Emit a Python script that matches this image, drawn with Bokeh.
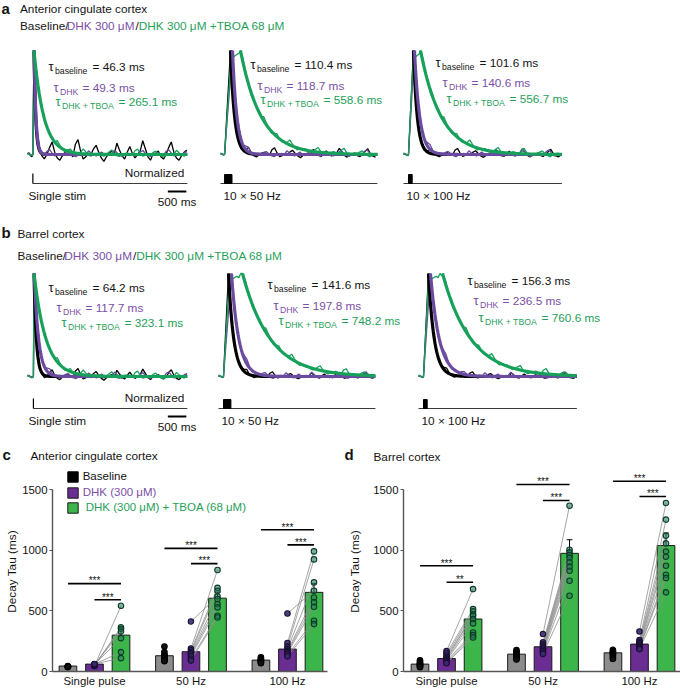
import numpy as np
from bokeh.plotting import figure
from bokeh.layouts import column, row
from bokeh.models import Range1d, Label, Legend, LegendItem, FixedTicker
from bokeh.embed import file_html
from bokeh.resources import INLINE

FONT = "Liberation Sans"
PURPLE_T = "#7b4fa6"
GREEN_T = "#1f9f5a"
PURPLE_L = "#6a4ba0"
GREEN_L = "#17a05a"
TXT = "#141414"

# ---------------- DATA: decay time constants (ms) ----------------
trace_panels = ["Single stim", "10 \u00d7 50 Hz", "10 \u00d7 100 Hz"]
acc_tau_base = [46.3, 110.4, 101.6]
acc_tau_dhk = [49.3, 118.7, 140.6]
acc_tau_tboa = [265.1, 558.6, 556.7]
bc_tau_base = [64.2, 141.6, 156.3]
bc_tau_dhk = [117.7, 197.8, 236.5]
bc_tau_tboa = [323.1, 748.2, 760.6]

# timing of the example traces (ms from trace start)
trace_len_ms = [4320, 4240, 4280]
acc_stim_on = [145, 110, 135]
bc_stim_on = [160, 135, 135]
stim_dur = [0, 200, 100]
acc_peak_base = [175, 270, 270]
acc_peak_dhk = [180, 324, 297]
acc_peak_tboa = [175, 300, 270]
acc_plateau_tboa = [175, 540, 460]
bc_peak_base = [176, 270, 270]
bc_peak_dhk = [182, 351, 324]
bc_peak_tboa = [176, 300, 280]
bc_plateau_tboa = [176, 649, 650]

# hand-read recording noise (normalised units)
noise = [0.01, 0.03, -0.02, -0.04, 0.00, 0.06, 0.11, 0.02, -0.03, -0.05,
         -0.01, 0.02, 0.04, 0.01, -0.02, 0.09, 0.13, 0.03, -0.04, -0.02,
         0.01, 0.00, 0.05, 0.08, 0.02, -0.03, -0.06, -0.02, 0.01, 0.03,
         0.00, 0.10, 0.04, -0.01, -0.04, 0.02, 0.07, 0.01, -0.03, 0.00,
         0.03, 0.12, 0.05, -0.02, -0.05, 0.01]

# ---------------- DATA: bar charts ----------------
groups = ["Single pulse", "50 Hz", "100 Hz"]
conditions = ["Baseline", "DHK (300 \u03bcM)", "DHK (300 \u03bcM) + TBOA (68 \u03bcM)"]

acc_mean = [[45, 130, 94], [61, 163, 185], [300, 605, 653]]
acc_sem = [[3, 14, 6], [4, 30, 36], [62, 50, 74]]
acc_pts_base = [[36, 38, 40, 41, 42, 44, 40],
                [206, 160, 140, 130, 122, 112, 100, 92, 85],
                [118, 108, 100, 95, 90, 85, 80, 75, 68]]
acc_pts_dhk = [[45, 50, 52, 55, 58, 60, 62],
               [413, 190, 175, 160, 150, 140, 125, 105, 90],
               [479, 235, 205, 185, 170, 160, 150, 140, 125]]
acc_pts_tboa = [[542, 365, 352, 330, 275, 160, 110],
                [620, 837, 690, 666, 598, 556, 529, 460, 446],
                [666, 991, 925, 735, 611, 570, 534, 419, 391]]
acc_sig_from = [0, 1, 0, 1, 0, 1]
acc_sig_group = [0, 0, 1, 1, 2, 2]
acc_sig_y = [725, 592, 1016, 890, 1170, 1045]
acc_sig_text = ["***", "***", "***", "***", "***", "***"]

bc_mean = [[61, 143, 154], [107, 204, 226], [433, 975, 1039]]
bc_sem = [[5, 6, 7], [12, 15, 14], [50, 112, 104]]
bc_pts_base = [[92, 82, 72, 66, 60, 56, 50, 46, 40, 36],
               [176, 165, 155, 148, 140, 132, 125, 115, 105, 100],
               [179, 170, 162, 156, 150, 145, 138, 128, 115, 104]]
bc_pts_dhk = [[168, 150, 132, 118, 108, 100, 92, 85, 76, 68],
              [309, 240, 225, 212, 200, 190, 180, 170, 158, 145],
              [330, 259, 245, 235, 225, 215, 205, 198, 190, 185]]
bc_pts_tboa = [[680, 515, 496, 470, 460, 432, 397, 322, 300, 281],
               [1368, 1005, 983, 960, 936, 900, 865, 831, 749, 625],
               [1390, 1253, 1120, 1057, 990, 947, 873, 798, 771, 653]]
bc_sig_from = [0, 1, 0, 1, 0, 1]
bc_sig_group = [0, 0, 1, 1, 2, 2]
bc_sig_y = [872, 736, 1543, 1411, 1570, 1444]
bc_sig_text = ["***", "**", "***", "***", "***", "***"]

# ---------------- TOP FIGURE (panels a, b and headers of c, d) ----------------
K = 18.5 / 500.0  # px per ms

top = figure(width=680, height=462, x_range=Range1d(0, 680), y_range=Range1d(462, 0),
             output_backend="svg", toolbar_location=None, min_border=0,
             x_axis_location=None, y_axis_location=None)
top.grid.visible = False
top.outline_line_color = None


def lab(p, x, y, text, size="11.8px", color=TXT, align="left", bold=False, baseline="middle"):
    p.add_layout(Label(x=x, y=y, text=text, text_font=FONT, text_font_size=size,
                       text_color=color, text_align=align, text_baseline=baseline,
                       text_font_style="bold" if bold else "normal"))


def raw_trace(t_end, on, t_peak, t_plat, tau, nz_amp, shift):
    ts, vs = [], []
    for i, t in enumerate(np.arange(0, on, 40.0)):
        ts.append(t)
        vs.append(noise[(i + shift) % len(noise)] * nz_amp * 0.5)
    ts.append(on); vs.append(0.0)
    ts.append(t_peak); vs.append(1.0)
    if t_plat > t_peak:
        for i, t in enumerate(np.arange(t_peak + 50, t_plat, 50.0)):
            ts.append(t)
            vs.append(0.96 + noise[(i + shift + 3) % len(noise)] * 0.4)
        ts.append(t_plat); vs.append(1.0)
    for j, t in enumerate(np.arange(t_plat + 70, t_end + 1, 70.0)):
        ts.append(t)
        vs.append(np.exp(-(t - t_plat) / tau) + noise[(j + shift) % len(noise)] * nz_amp)
    return np.array(ts), np.array(vs)


def fit_trace(t_end, t_plat, tau):
    t = np.arange(t_plat, t_end + 1, 10.0)
    return t, np.exp(-(t - t_plat) / tau)


def tau_block(p, x, y, sub, val, color):
    sub_off = {"baseline": 44, "DHK": 29, "DHK + TBOA": 63}
    lab(p, x, y, "\u03c4", size="13px", color=color)
    lab(p, x + 6.5, y + 4, sub, size="8.7px", color=color)
    lab(p, x + sub_off[sub], y, "= %s ms" % val, size="11.8px", color=color)


def trace_row(p, x0s, base_y, amp, line_y, stim_on, peaks, plats, taus, ann, nz_black):
    for i in range(3):
        x0 = x0s[i]
        tend = trace_len_ms[i]
        on = stim_on[i]
        specs = [("black", peaks[0][i], peaks[0][i], taus[0][i], nz_black[i], 0),
                 (PURPLE_L, peaks[1][i], peaks[1][i], taus[1][i], 0.35, 11),
                 (GREEN_L, peaks[2][i], plats[i], taus[2][i], 0.4, 23)]
        for col, tp, tpl, tau, na, sh in specs:
            t, v = raw_trace(tend, on, tp, tpl, tau, na, sh)
            p.line(x0 + t * K, base_y - amp * v, line_color=col, line_width=1.3)
        for col, tp, tpl, tau, na, sh in specs:
            t, v = fit_trace(tend, tpl, tau)
            p.line(x0 + t * K, base_y - amp * v, line_color=col, line_width=3.2)
        xs_line = x0 + (on * K if stim_dur[i] == 0 else 0)
        p.segment(x0=[xs_line], y0=[line_y], x1=[x0 + tend * K], y1=[line_y],
                  line_color="#3a3a3a", line_width=1.2)
        if stim_dur[i] == 0:
            p.segment(x0=[x0 + on * K], y0=[line_y - 10], x1=[x0 + on * K], y1=[line_y],
                      line_color="black", line_width=1.2)
            lab(p, x0 + 1, line_y + 12, trace_panels[i])
            sb_r = x0 + tend * K - 1
            sb_l = sb_r - 500 * K
            p.segment(x0=[sb_l], y0=[line_y + 8], x1=[sb_r], y1=[line_y + 8],
                      line_color="black", line_width=1.8)
            lab(p, (sb_l + sb_r) / 2, line_y + 18, "500 ms", align="center")
            lab(p, x0 + tend * K - 3, line_y - 11, "Normalized", align="right")
        else:
            p.quad(left=[x0 + on * K], right=[x0 + (on + stim_dur[i]) * K],
                   top=[line_y - 9], bottom=[line_y], fill_color="black", line_color="black")
            lab(p, x0 + 3, line_y + 12, trace_panels[i])
        (xa, ya), (xb, yb), (xc, yc) = ann[i]
        tau_block(p, xa, ya, "baseline", taus[0][i], TXT)
        tau_block(p, xb, yb, "DHK", taus[1][i], PURPLE_T)
        tau_block(p, xc, yc, "DHK + TBOA", taus[2][i], GREEN_T)


def legend_line(p, x, y):
    lab(p, x, y, "Baseline/")
    lab(p, x + 46.7, y, "DHK 300 \u03bcM", color=PURPLE_T)
    lab(p, x + 115.5, y, "/")
    lab(p, x + 118.7, y, "DHK 300 \u03bcM +TBOA 68 \u03bcM", color=GREEN_T)


lab(top, 1, 8, "a", size="15px", bold=True)
lab(top, 19.5, 8, "Anterior cingulate cortex")
legend_line(top, 19.5, 25)
trace_row(top, [27, 220, 403], 154, 104, 183, acc_stim_on,
          [acc_peak_base, acc_peak_dhk, acc_peak_tboa], acc_plateau_tboa,
          [acc_tau_base, acc_tau_dhk, acc_tau_tboa],
          [[(48, 66), (53, 87), (55, 101)],
           [(250, 64), (257, 85), (260, 99)],
           [(435, 62), (442, 82), (446, 98)]],
          [1.1, 0.5, 0.45])

lab(top, 1, 232, "b", size="15px", bold=True)
lab(top, 17, 233, "Barrel cortex")
legend_line(top, 17, 255)
trace_row(top, [27, 218, 418], 376, 103, 408, bc_stim_on,
          [bc_peak_base, bc_peak_dhk, bc_peak_tboa], bc_plateau_tboa,
          [bc_tau_base, bc_tau_dhk, bc_tau_tboa],
          [[(48, 287), (56, 307), (61, 322)],
           [(267, 284), (273, 305), (278, 320)],
           [(467, 280), (473, 300), (478, 317)]],
          [0.6, 0.35, 0.35])

lab(top, 2, 454, "c", size="15px", bold=True)
lab(top, 30, 455, "Anterior cingulate cortex")
lab(top, 344, 454, "d", size="15px", bold=True)
lab(top, 373, 456, "Barrel cortex")

# ---------------- BAR PANELS (c, d) ----------------
OFF = 0.275
BW = 0.183
BAR_FILL = ["#8c8c8c", "#6a2d91", "#3cb54a"]


def bar_panel(means, sems, pts, sig_from, sig_group, sig_y, sig_text, xr, bl, br,
              std, with_legend):
    p = figure(width=340, height=227, x_range=Range1d(*xr), y_range=Range1d(0, 1650),
               output_backend="svg", toolbar_location=None,
               min_border_left=bl, min_border_right=br, min_border_top=9, min_border_bottom=18)
    p.grid.visible = False
    p.outline_line_color = None
    for c in range(3):
        xs = [g + (c - 1) * OFF for g in range(3)]
        p.vbar(x=xs, top=means[c], bottom=0, width=BW, fill_color=BAR_FILL[c],
               line_color="#1a1a1a", line_width=1)
    for c in range(3):
        xs = [g + (c - 1) * OFF for g in range(3)]
        tops = [m + s for m, s in zip(means[c], sems[c])]
        p.segment(x0=xs, y0=means[c], x1=xs, y1=tops, line_color="black", line_width=1)
        p.segment(x0=[x - 0.03 for x in xs], y0=tops, x1=[x + 0.03 for x in xs], y1=tops,
                  line_color="black", line_width=1)
    for g in range(3):
        n = len(pts[1][g])
        p.segment(x0=[g] * n, y0=pts[1][g], x1=[g + OFF] * n, y1=pts[2][g],
                  line_color="#8f8f8f", line_width=0.8)
    styles = [("#111111", "#000000", 1.0), ("#3a2a6e", "#1a1033", 0.9), ("#1f7a50", "#0b3b26", 0.55)]
    for c in range(3):
        fc, lc, fa = styles[c]
        for g in range(3):
            ys = pts[c][g]
            p.scatter(x=[g + (c - 1) * OFF] * len(ys), y=ys, size=5.5, fill_color=fc,
                      fill_alpha=fa, line_color=lc, line_width=1.1)
    for f, g, y, s in zip(sig_from, sig_group, sig_y, sig_text):
        xa = g + (f - 1) * OFF
        xb = g + OFF
        p.segment(x0=[xa], y0=[y], x1=[xb], y1=[y], line_color="black", line_width=1.6)
        p.add_layout(Label(x=(xa + xb) / 2, y=y + 22, text=s, text_font=FONT,
                           text_font_size="10px", text_align="center", text_baseline="middle",
                           text_color=TXT))
    p.yaxis.ticker = FixedTicker(ticks=[0, 500, 1000, 1500])
    p.yaxis.bounds = (0, 1500)
    p.yaxis.axis_label = "Decay Tau (ms)"
    p.yaxis.axis_label_text_font = FONT
    p.yaxis.axis_label_text_font_size = "11.8px"
    p.yaxis.axis_label_text_font_style = "normal"
    p.yaxis.axis_label_text_color = TXT
    p.yaxis.axis_label_standoff = std
    p.yaxis.major_label_standoff = 2
    p.yaxis.major_tick_out = 3
    p.yaxis.major_tick_in = 0
    p.xaxis.ticker = FixedTicker(ticks=[0, 1, 2])
    p.xaxis.major_label_overrides = {0: groups[0], 1: groups[1], 2: groups[2]}
    p.xaxis.major_tick_out = 0
    p.xaxis.major_tick_in = 0
    p.xaxis.major_label_standoff = 3
    for ax in (p.xaxis, p.yaxis):
        ax.major_label_text_font = FONT
        ax.major_label_text_font_size = "11.4px"
        ax.major_label_text_color = TXT
        ax.axis_line_color = "#555555"
        ax.axis_line_width = 1.4
        ax.major_tick_line_color = "#555555"
    if with_legend:
        leg_cols = [("black", "black", TXT, 4), (BAR_FILL[1], "#1a1a1a", PURPLE_T, 4),
                    (BAR_FILL[2], "#1a1a1a", GREEN_T, 7)]
        leg_y = [188.2, 172.2, 157.2]
        for (fc, lc, tc, so), cond, ly in zip(leg_cols, conditions, leg_y):
            r = p.vbar(x=np.array([np.nan]), top=np.array([np.nan]), width=0.1,
                       fill_color=fc, line_color=lc)
            lg = Legend(items=[LegendItem(label=cond, renderers=[r])], location=(13.7, ly),
                        glyph_width=13, glyph_height=13, label_height=13, label_standoff=so,
                        label_text_font=FONT, label_text_font_size="11.5px", label_text_color=tc,
                        border_line_alpha=0, background_fill_alpha=0, padding=0, margin=0, spacing=0)
            p.add_layout(lg)
    return p


pc = bar_panel(acc_mean, acc_sem, [acc_pts_base, acc_pts_dhk, acc_pts_tboa],
               acc_sig_from, acc_sig_group, acc_sig_y, acc_sig_text,
               (-0.435, 2.415), 52, 13, 0, True)
pd_ = bar_panel(bc_mean, bc_sem, [bc_pts_base, bc_pts_dhk, bc_pts_tboa],
                bc_sig_from, bc_sig_group, bc_sig_y, bc_sig_text,
                (-0.446, 2.425), 63, 0, 8, False)

layout = column(top, row(pc, pd_))
open("out.html", "w").write(file_html(layout, INLINE, "plot"))
